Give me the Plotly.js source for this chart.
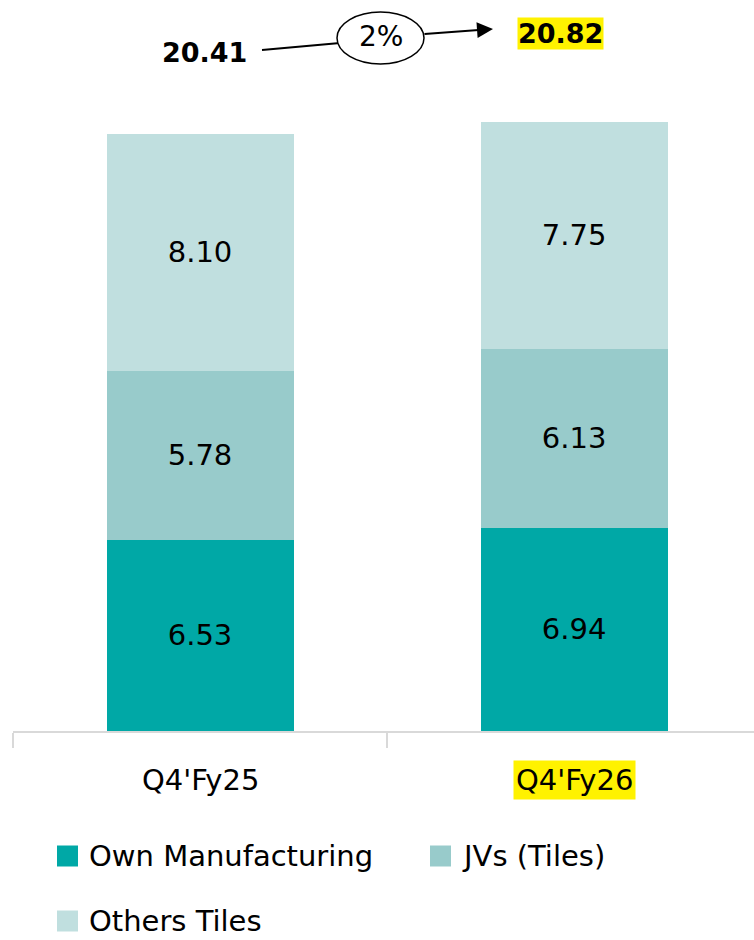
<!DOCTYPE html>
<html>
<head>
<meta charset="utf-8">
<script src="https://cdn.plot.ly/plotly-3.0.1.min.js"></script>
<style>html,body{margin:0;padding:0;background:#fff;}</style>
</head>
<body>
<div id="chart" style="width:754px;height:940px;"></div>
<script>
// ---- data ----
const categories = ["Q4'Fy25", "Q4'Fy26"];
const seriesNames = ["Own Manufacturing", "JVs (Tiles)", "Others Tiles"];
const ownManufacturing = [6.53, 6.94];
const jvsTiles = [5.78, 6.13];
const othersTiles = [8.10, 7.75];
const highlightCategory = "Q4'Fy26";

// ---- styling ----
const colors = ["#00A8A6", "#98CBCB", "#C0DFDF"];
const FONT = "DejaVu Sans";
const W = 754, H = 940;
const M = {l: 13, r: 0, t: 0, b: 209};
const plotW = W - M.l - M.r, plotH = H - M.t - M.b;
const px = x => (x - M.l) / plotW;
const py = y => (H - M.b - y) / plotH;

const seriesValues = [ownManufacturing, jvsTiles, othersTiles];
const totals = categories.map((c, i) => seriesValues.reduce((s, arr) => s + arr[i], 0));
const growth = Math.round((totals[1] / totals[0] - 1) * 100) + "%";

const traces = seriesValues.map((vals, k) => ({
  type: "bar",
  name: seriesNames[k],
  x: categories,
  y: vals,
  marker: {color: colors[k], line: {width: 0}},
  texttemplate: "%{y:.2f}",
  textposition: "inside",
  insidetextanchor: "middle",
  textangle: 0,
  textfont: {family: FONT, size: 29, color: "#000000"},
  hoverinfo: "skip"
}));

const annotations = [];
const shapes = [];

// totals
const totalPos = [[204, 53], [560, 33]];
totals.forEach((t, i) => {
  annotations.push({
    xref: "paper", yref: "paper", x: px(totalPos[i][0]), y: py(totalPos[i][1]),
    xanchor: "center", yanchor: "middle", showarrow: false,
    text: "<b>" + t.toFixed(2) + "</b>",
    font: {family: FONT, size: 27, color: "#000000"},
    bgcolor: categories[i] === highlightCategory ? "#FFF200" : "rgba(0,0,0,0)",
    borderpad: 0
  });
});

// growth arrow
shapes.push({type: "line", xref: "paper", yref: "paper",
  x0: px(262), y0: py(50), x1: px(340), y1: py(43), line: {color: "#000000", width: 2}});
annotations.push({xref: "paper", yref: "paper", x: px(493), y: py(29),
  ax: -70, ay: 5, text: "", showarrow: true, arrowhead: 2, arrowsize: 1.6,
  arrowwidth: 2, arrowcolor: "#000000", standoff: 0});
shapes.push({type: "circle", xref: "paper", yref: "paper",
  x0: px(337), x1: px(424), y0: py(64), y1: py(12),
  line: {color: "#000000", width: 1.5}, fillcolor: "#ffffff"});
annotations.push({xref: "paper", yref: "paper", x: px(381), y: py(37),
  xanchor: "center", yanchor: "middle", showarrow: false, text: growth,
  font: {family: FONT, size: 28, color: "#000000"}});

// category labels
categories.forEach((c, i) => {
  annotations.push({
    xref: "x", yref: "paper", x: c, y: py(780),
    xanchor: "center", yanchor: "middle", showarrow: false, text: c,
    font: {family: FONT, size: 29, color: "#000000"},
    bgcolor: c === highlightCategory ? "#FFF200" : "rgba(0,0,0,0)",
    borderpad: 2
  });
});

// legend (custom)
const legendPos = [[57, 856], [430, 856], [57, 921]];
seriesNames.forEach((n, k) => {
  const [lx, ly] = legendPos[k];
  shapes.push({type: "rect", xref: "paper", yref: "paper",
    x0: px(lx), x1: px(lx + 21), y0: py(ly + 10.5), y1: py(ly - 10.5),
    line: {width: 0}, fillcolor: colors[k]});
  annotations.push({xref: "paper", yref: "paper", x: px(lx + 30), y: py(ly),
    xanchor: "left", yanchor: "middle", showarrow: false, text: n,
    font: {family: FONT, size: 29, color: "#000000"}});
});

const layout = {
  width: W, height: H,
  margin: M,
  paper_bgcolor: "#ffffff", plot_bgcolor: "#ffffff",
  barmode: "stack", bargap: 0.5,
  showlegend: false,
  font: {family: FONT, color: "#000000"},
  xaxis: {type: "category", range: [-0.5, 1.481], showline: true, linecolor: "#D9D9D9",
    linewidth: 1.5, ticks: "outside", tickson: "boundaries", ticklen: 15,
    tickcolor: "#D9D9D9", tickwidth: 1.5, showticklabels: false, showgrid: false,
    zeroline: false, fixedrange: true},
  yaxis: {range: [0, 24.99], visible: false, fixedrange: true},
  annotations: annotations,
  shapes: shapes
};

Plotly.newPlot("chart", traces, layout, {displayModeBar: false, staticPlot: true});
</script>
</body>
</html>
